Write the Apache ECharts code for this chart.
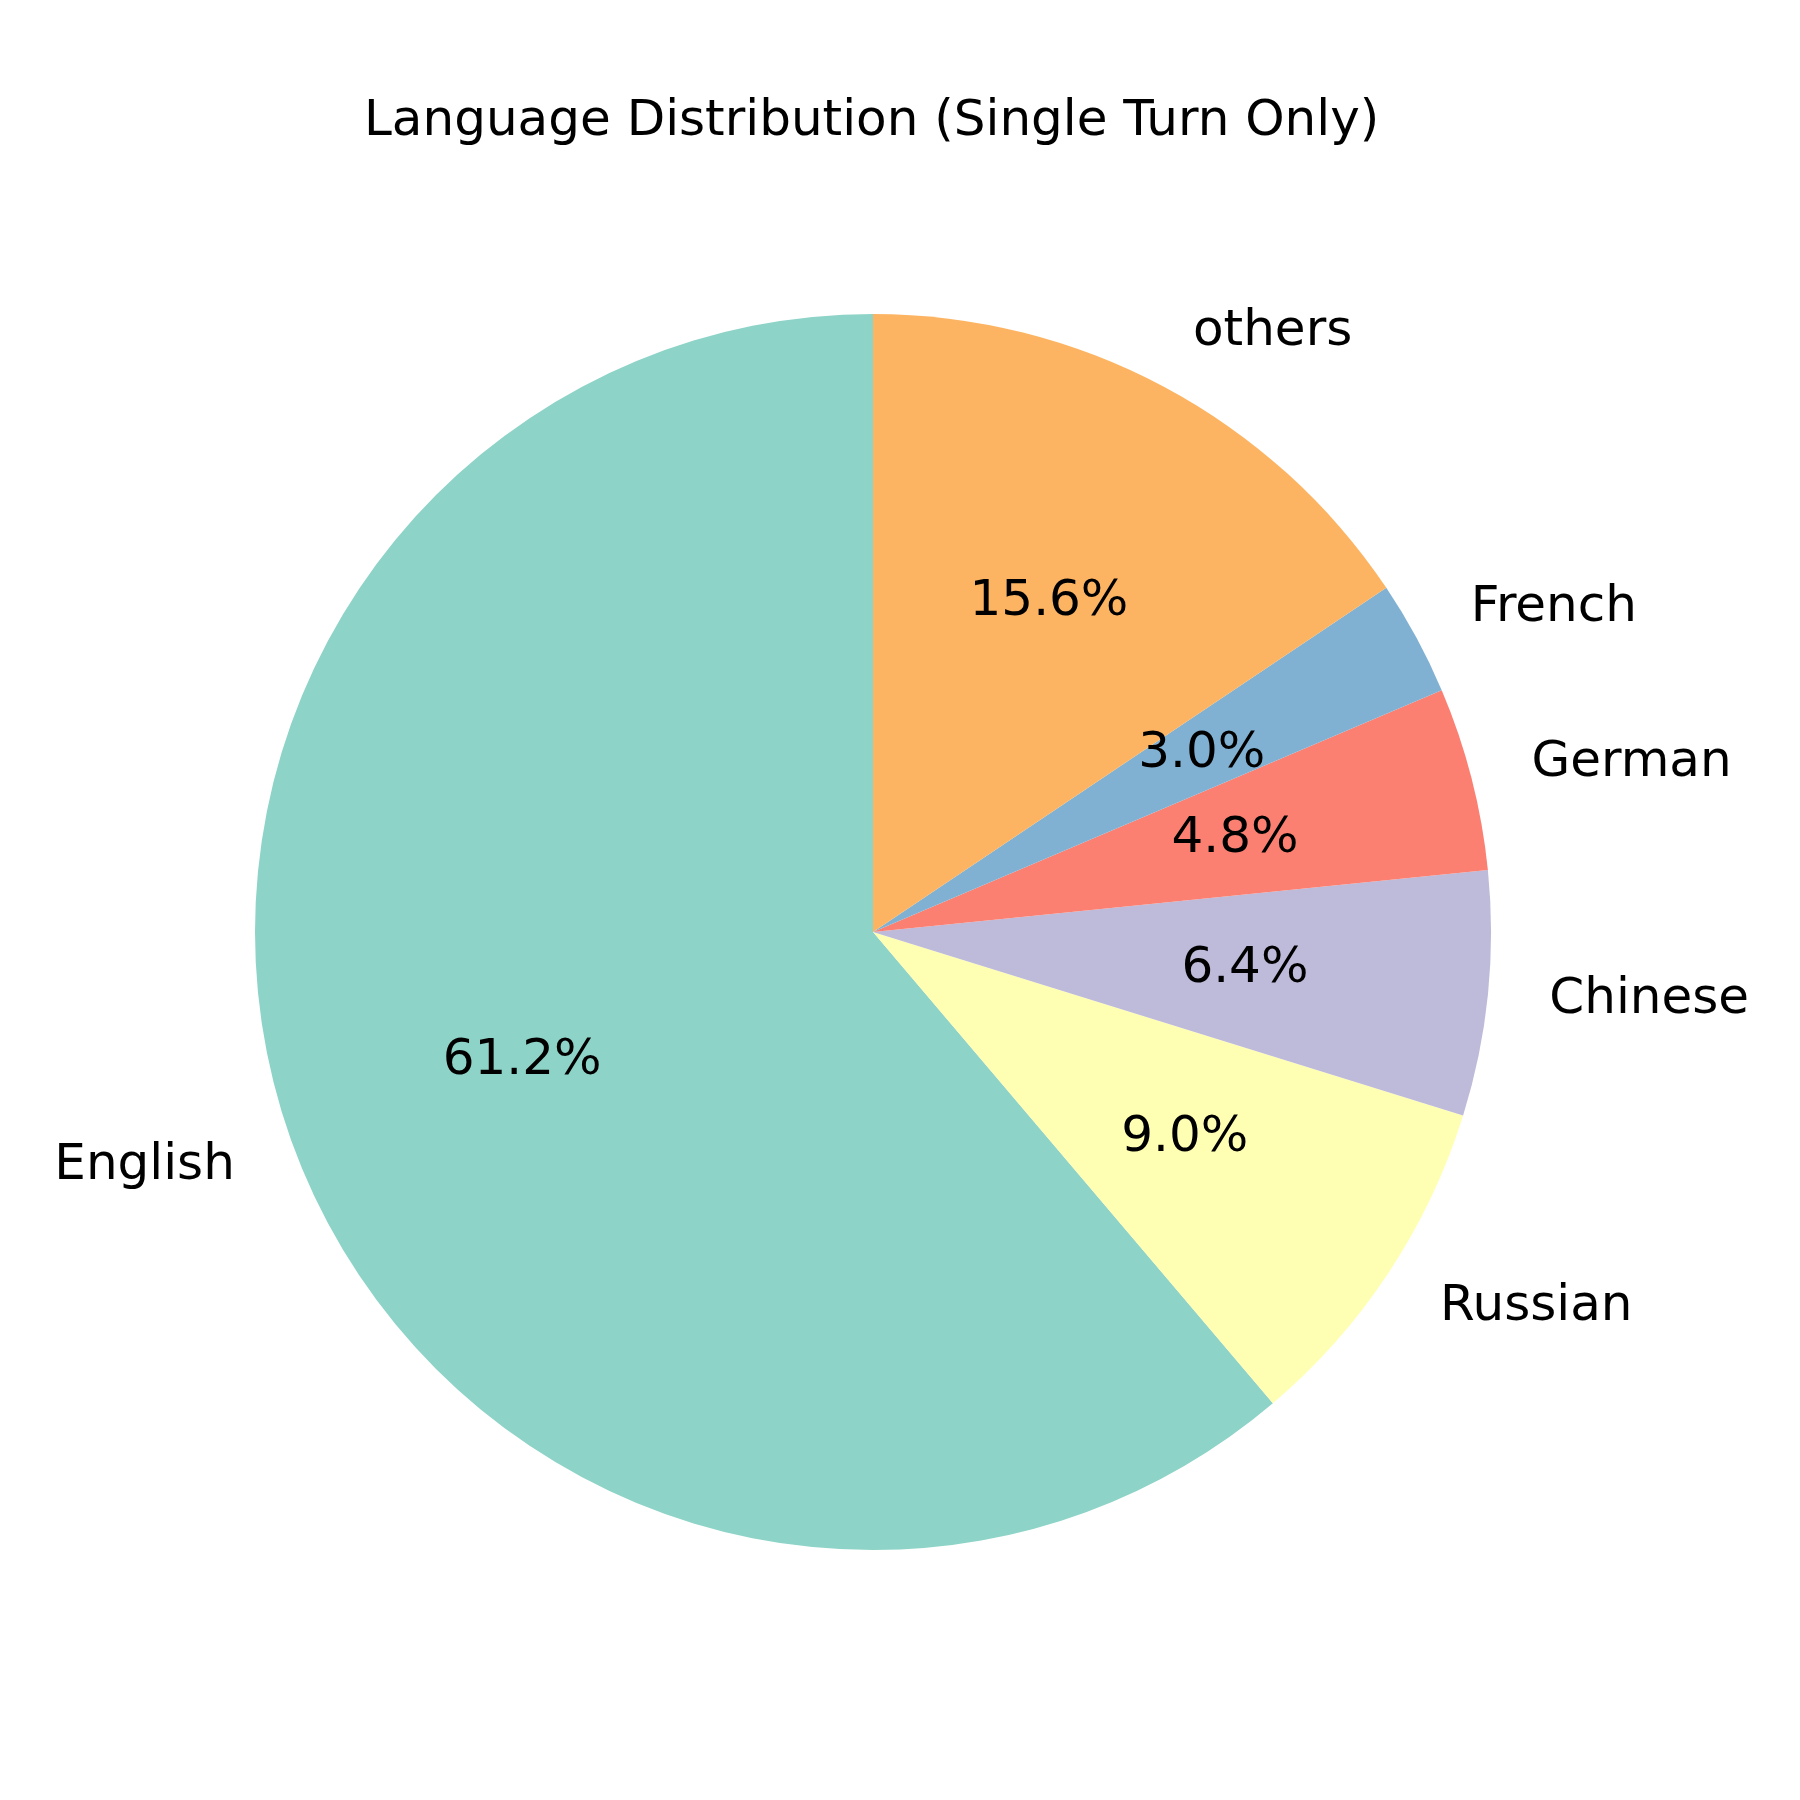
<!DOCTYPE html>
<html>
<head>
<meta charset="utf-8">
<script src="https://cdn.jsdelivr.net/npm/echarts@6/dist/echarts.min.js"></script>
<style>
  html, body { margin: 0; padding: 0; background: #fff; }
  #chart { width: 1800px; height: 1800px; }
</style>
</head>
<body>
<div id="chart"></div>
<script>
const languages = ['English', 'Russian', 'Chinese', 'German', 'French', 'others'];
const shares = [61.2, 9.0, 6.4, 4.8, 3.0, 15.6];
const colors = ['#8dd3c7', '#ffffb3', '#bebada', '#fb8072', '#80b1d3', '#fdb462'];

const R = 618;
const center = [873, 932];
const font = 'DejaVu Sans';

const pieData = languages.map((name, i) => ({
    name: name,
    value: shares[i],
    itemStyle: { color: colors[i] }
}));

const chart = echarts.init(document.getElementById('chart'));
chart.setOption({
    backgroundColor: '#fff',
    animation: false,
    title: {
        text: 'Language Distribution (Single Turn Only)',
        left: 359,
        top: 92,
        textStyle: { fontFamily: font, fontSize: 50, fontWeight: 'normal', color: '#000' }
    },
    series: [
        {
            // visible wedges + names outside (1.1 R)
            type: 'pie',
            center: center,
            radius: [0, R],
            startAngle: 90,
            clockwise: false,
            avoidLabelOverlap: false,
            silent: true,
            itemStyle: { borderWidth: 0 },
            label: {
                show: true,
                position: 'outside',
                distanceToLabelLine: 0,
                fontFamily: font,
                fontSize: 50,
                color: '#000',
                formatter: '{b}'
            },
            labelLine: { show: false, length: R * 0.1, length2: 0 },
            data: pieData
        },
        {
            // see-through ring only to place percentages at 0.6 R
            type: 'pie',
            center: center,
            radius: [R * 0.2, R],
            startAngle: 90,
            clockwise: false,
            avoidLabelOverlap: false,
            silent: true,
            itemStyle: { color: 'rgba(0,0,0,0)', borderWidth: 0 },
            label: {
                show: true,
                position: 'inside',
                fontFamily: font,
                fontSize: 50,
                color: '#000',
                formatter: p => p.value.toFixed(1) + '%'
            },
            labelLine: { show: false },
            data: pieData.map(d => ({ name: d.name, value: d.value }))
        }
    ]
});
</script>
</body>
</html>
